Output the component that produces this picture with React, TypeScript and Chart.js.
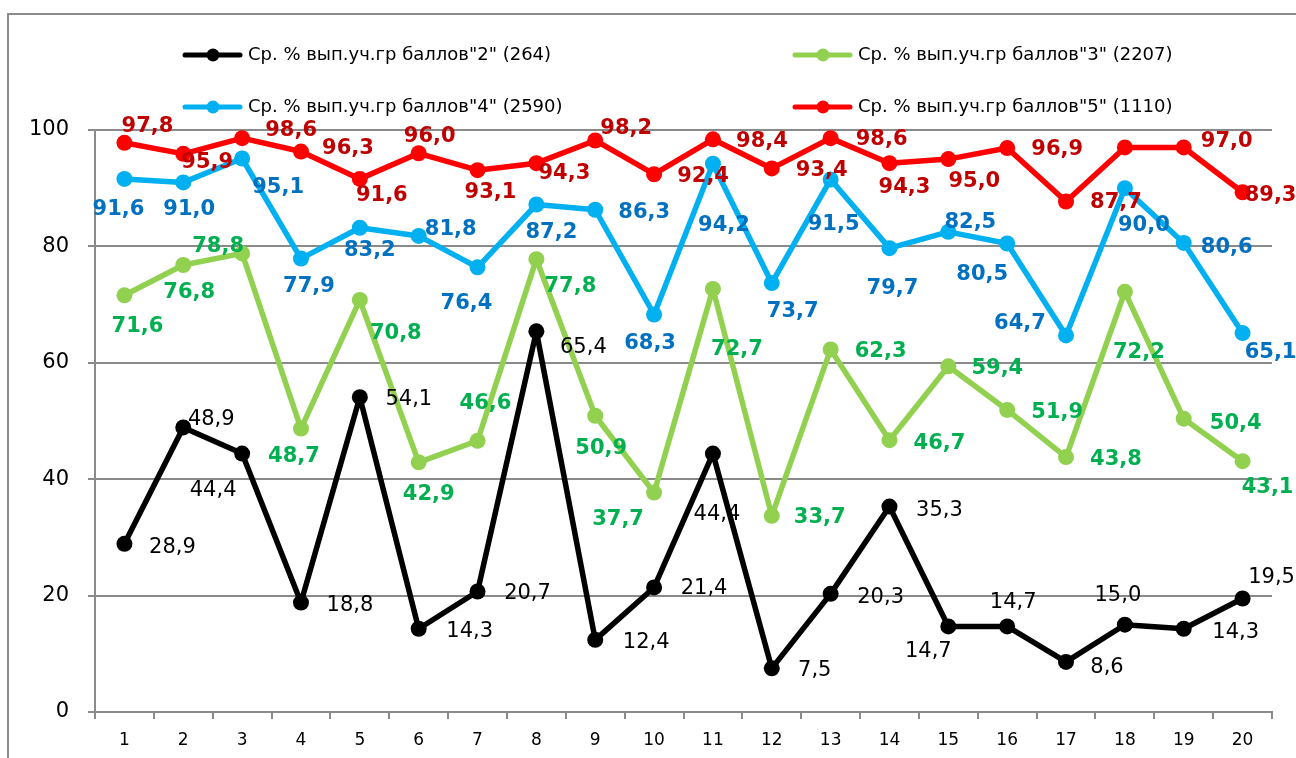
import React, { useEffect, useRef } from "react";
import { Chart, registerables } from "chart.js";

Chart.register(...registerables);

const categories = ["1","2","3","4","5","6","7","8","9","10","11","12","13","14","15","16","17","18","19","20"];

const seriesNames = [
  'Ср. % вып.уч.гр баллов"2" (264)',
  'Ср. % вып.уч.гр баллов"3" (2207)',
  'Ср. % вып.уч.гр баллов"4" (2590)',
  'Ср. % вып.уч.гр баллов"5" (1110)',
];

const grade2 = [28.9, 48.9, 44.4, 18.8, 54.1, 14.3, 20.7, 65.4, 12.4, 21.4, 44.4, 7.5, 20.3, 35.3, 14.7, 14.7, 8.6, 15.0, 14.3, 19.5];
const grade3 = [71.6, 76.8, 78.8, 48.7, 70.8, 42.9, 46.6, 77.8, 50.9, 37.7, 72.7, 33.7, 62.3, 46.7, 59.4, 51.9, 43.8, 72.2, 50.4, 43.1];
const grade4 = [91.6, 91.0, 95.1, 77.9, 83.2, 81.8, 76.4, 87.2, 86.3, 68.3, 94.2, 73.7, 91.5, 79.7, 82.5, 80.5, 64.7, 90.0, 80.6, 65.1];
const grade5 = [97.8, 95.9, 98.6, 96.3, 91.6, 96.0, 93.1, 94.3, 98.2, 92.4, 98.4, 93.4, 98.6, 94.3, 95.0, 96.9, 87.7, 97.0, 97.0, 89.3];

const yTicks = [0, 20, 40, 60, 80, 100];

// label placement (offset of label centre from its point), styling only
const place2 = [[48,4],[28,-8],[-29,37],[49,3],[49,2],[51,3],[50,2],[47,16],[51,3],[50,1],[4,61],[43,2],[50,4],[50,4],[-20,25],[6,-24],[41,6],[-7,-29],[52,4],[29,-21]];
const place3 = [[13,31],[6,28],[-24,-7],[-7,28],[36,34],[10,32],[8,-37],[34,27],[6,33],[-36,27],[24,61],[48,2],[50,2],[50,3],[49,2],[50,3],[50,2],[14,61],[52,5],[25,26]];
const place4 = [[-6,31],[6,27],[36,29],[8,28],[10,23],[32,-6],[-11,36],[15,28],[49,3],[-4,29],[11,62],[21,28],[3,45],[3,40],[22,-9],[-25,31],[-46,-12],[19,37],[43,5],[28,19]];
const place5 = [[23,-16],[24,9],[49,-8],[47,-3],[22,17],[11,-17],[13,22],[28,10],[31,-12],[49,2],[49,2],[50,2],[51,1],[15,24],[26,22],[50,2],[50,1],null,[43,-6],[28,3]];

const FONT = "'DejaVu Sans', 'Verdana', sans-serif";
const GRID = "#8a8a8a";

const fmt = (v: number) => v.toFixed(1).replace(".", ",");

const labelPlugin = {
  id: "pointLabels",
  afterDatasetsDraw(chart: any) {
    const ctx = chart.ctx;
    chart.data.datasets.forEach((ds: any, di: number) => {
      const meta = chart.getDatasetMeta(di);
      meta.data.forEach((pt: any, i: number) => {
        const o = ds.labelPlace[i];
        if (!o) return;
        ctx.save();
        ctx.font = ds.labelFont;
        ctx.fillStyle = ds.labelColor;
        ctx.textAlign = "center";
        ctx.textBaseline = "middle";
        ctx.fillText(fmt(ds.data[i]), pt.x + o[0], pt.y + o[1]);
        ctx.restore();
      });
    });
  },
};

const legendPlugin = {
  id: "customLegend",
  afterDraw(chart: any) {
    const ctx = chart.ctx;
    const slots = [[185, 55], [795, 55], [185, 107], [795, 107]];
    chart.data.datasets.forEach((ds: any, di: number) => {
      const [x, y] = slots[di];
      ctx.save();
      ctx.strokeStyle = ds.borderColor;
      ctx.lineWidth = 5;
      ctx.lineCap = "round";
      ctx.beginPath();
      ctx.moveTo(x, y);
      ctx.lineTo(x + 55, y);
      ctx.stroke();
      ctx.fillStyle = ds.borderColor;
      ctx.beginPath();
      ctx.arc(x + 28, y, 6.5, 0, Math.PI * 2);
      ctx.fill();
      ctx.fillStyle = "#000";
      ctx.font = `18px ${FONT}`;
      ctx.textAlign = "left";
      ctx.textBaseline = "middle";
      ctx.fillText(ds.label, x + 63, y);
      ctx.restore();
    });
  },
};

const framePlugin = {
  id: "frame",
  beforeDraw(chart: any) {
    const ctx = chart.ctx;
    ctx.save();
    ctx.fillStyle = "#fff";
    ctx.fillRect(0, 0, chart.width, chart.height);
    ctx.strokeStyle = "#8c8c8c";
    ctx.lineWidth = 2;
    ctx.beginPath();
    ctx.moveTo(8, chart.height);
    ctx.lineTo(8, 14);
    ctx.lineTo(chart.width, 14);
    ctx.stroke();
    ctx.restore();
  },
};

export default function App() {
  const ref = useRef<HTMLCanvasElement | null>(null);

  useEffect(() => {
    if (!ref.current) return;
    const mk = (label: string, data: number[], color: string, labelColor: string, labelFont: string, place: any[], order: number) => ({
      label,
      data,
      borderColor: color,
      backgroundColor: color,
      pointBackgroundColor: color,
      pointBorderColor: color,
      borderWidth: 5.5,
      borderJoinStyle: "round",
      borderCapStyle: "round",
      pointRadius: 8,
      pointBorderWidth: 0,
      tension: 0,
      order,
      labelColor,
      labelFont,
      labelPlace: place,
      clip: false,
    });
    const chart = new Chart(ref.current, {
      type: "line",
      data: {
        labels: categories,
        datasets: [
          mk(seriesNames[0], grade2, "#000000", "#000000", `21px ${FONT}`, place2, 4),
          mk(seriesNames[1], grade3, "#92D050", "#00B050", `bold 21px ${FONT}`, place3, 3),
          mk(seriesNames[2], grade4, "#00B0F0", "#0070C0", `bold 21px ${FONT}`, place4, 2),
          mk(seriesNames[3], grade5, "#FF0000", "#C00000", `bold 21px ${FONT}`, place5, 1),
        ] as any,
      },
      options: {
        responsive: false,
        animation: false,
        devicePixelRatio: 1,
        layout: { padding: { top: 130, right: 24, left: 0, bottom: 0 } },
        plugins: { legend: { display: false }, tooltip: { enabled: false } },
        scales: {
          x: {
            type: "category",
            offset: true,
            grid: { display: true, drawOnChartArea: false, drawTicks: true, tickLength: 7, color: GRID, lineWidth: 2, offset: true },
            border: { color: GRID, width: 2 },
            ticks: { font: { family: FONT, size: 17 }, color: "#000", padding: 11, maxRotation: 0 },
            afterFit: (s: any) => { s.height = 46; },
          },
          y: {
            min: yTicks[0],
            max: yTicks[yTicks.length - 1],
            afterBuildTicks: (s: any) => { s.ticks = yTicks.map((v) => ({ value: v })); },
            grid: { color: GRID, lineWidth: 2, tickLength: 7, drawTicks: true },
            border: { color: GRID, width: 2 },
            ticks: { font: { family: FONT, size: 21 }, color: "#000", padding: 19 },
            afterFit: (s: any) => { s.width = 95; },
          },
        },
      } as any,
      plugins: [framePlugin, labelPlugin, legendPlugin],
    });
    return () => chart.destroy();
  }, []);

  return (
    <div style={{ position: "fixed", left: 0, top: 0, width: 1296, height: 758, background: "#fff" }}>
      <canvas ref={ref} width={1296} height={758} style={{ display: "block" }} />
    </div>
  );
}
